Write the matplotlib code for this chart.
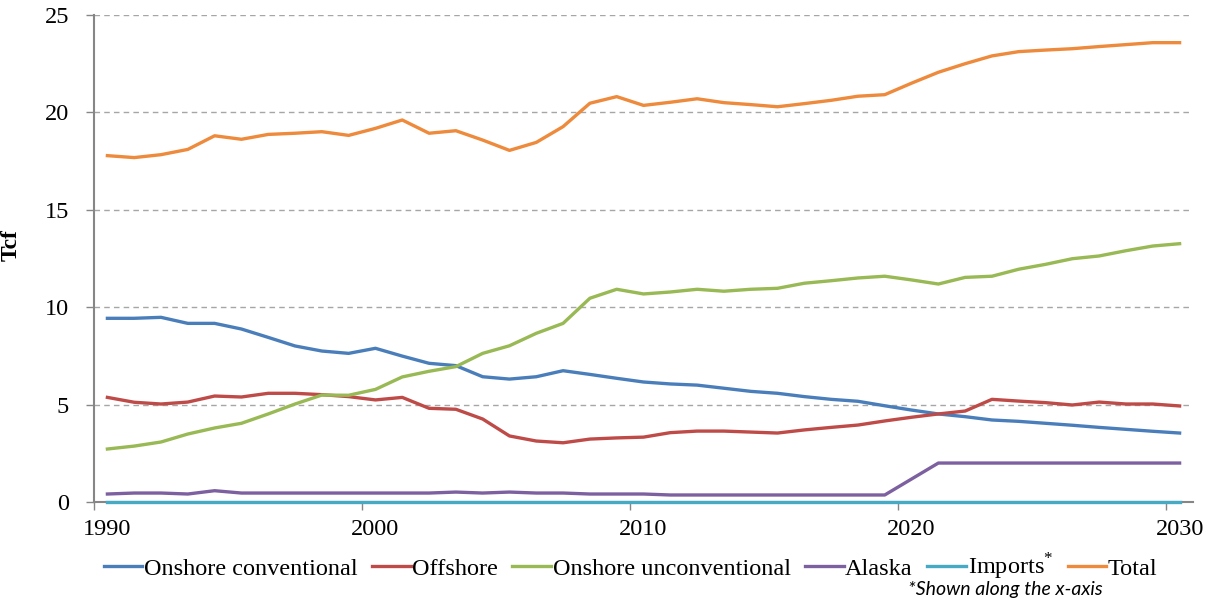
import matplotlib.pyplot as plt
import numpy as np

years = list(range(1990, 2031))

onshore_conv = [9.43, 9.43, 9.48, 9.17, 9.17, 8.88, 8.45, 8.01, 7.75, 7.63,
                7.89, 7.49, 7.12, 7.00, 6.43, 6.31, 6.43, 6.74, 6.55, 6.35,
                6.16, 6.06, 6.00, 5.84, 5.68, 5.58, 5.41, 5.27, 5.17, 4.94,
                4.72, 4.52, 4.38, 4.21, 4.14, 4.04, 3.94, 3.83, 3.73, 3.63,
                3.54]
offshore = [5.37, 5.12, 5.03, 5.13, 5.44, 5.39, 5.58, 5.58, 5.51, 5.41,
            5.24, 5.37, 4.81, 4.76, 4.26, 3.39, 3.13, 3.04, 3.23, 3.29,
            3.33, 3.56, 3.64, 3.64, 3.59, 3.54, 3.70, 3.83, 3.95, 4.16,
            4.35, 4.52, 4.67, 5.27, 5.18, 5.10, 4.98, 5.13, 5.03, 5.03,
            4.93]
onshore_unconv = [2.72, 2.87, 3.08, 3.49, 3.80, 4.04, 4.52, 5.03, 5.49, 5.48,
                  5.78, 6.42, 6.71, 6.95, 7.63, 8.02, 8.66, 9.17, 10.46, 10.92,
                  10.68, 10.78, 10.92, 10.82, 10.92, 10.97, 11.23, 11.36, 11.50, 11.59,
                  11.40, 11.19, 11.53, 11.59, 11.95, 12.20, 12.49, 12.63, 12.90, 13.14,
                  13.26]
alaska = [0.41, 0.46, 0.46, 0.41, 0.58, 0.46, 0.46, 0.46, 0.46, 0.46,
          0.46, 0.46, 0.46, 0.51, 0.46, 0.51, 0.46, 0.46, 0.41, 0.41,
          0.41, 0.36, 0.36, 0.36, 0.36, 0.36, 0.36, 0.36, 0.36, 0.36,
          1.18, 2.00, 2.00, 2.00, 2.00, 2.00, 2.00, 2.00, 2.00, 2.00,
          2.00]
imports = [0.0] * 41
total = [17.78, 17.68, 17.83, 18.10, 18.80, 18.62, 18.87, 18.93, 19.01, 18.82,
         19.18, 19.61, 18.93, 19.06, 18.58, 18.05, 18.46, 19.27, 20.47, 20.81,
         20.36, 20.52, 20.70, 20.50, 20.40, 20.29, 20.45, 20.62, 20.83, 20.91,
         21.50, 22.06, 22.50, 22.90, 23.12, 23.20, 23.27, 23.38, 23.48, 23.58,
         23.58]

series = [
    ("Onshore conventional", onshore_conv, "#4A7EBB"),
    ("Offshore", offshore, "#BE4B48"),
    ("Onshore unconventional", onshore_unconv, "#98B954"),
    ("Alaska", alaska, "#7D60A0"),
    ("Imports$^{*}$", imports, "#46AAC5"),
    ("Total", total, "#EE8A3C"),
]

plt.rcParams['font.family'] = ['Liberation Serif', 'DejaVu Serif']
plt.rcParams['mathtext.fontset'] = 'custom'
plt.rcParams['mathtext.rm'] = 'Liberation Serif'

fig = plt.figure(figsize=(12.17, 6.0), dpi=100)
ax = fig.add_axes([94 / 1217, 98 / 600, (1193 - 94) / 1217, (502 - 15) / 600])

for label, vals, col in series:
    ax.plot(years, vals, color=col, lw=2.4, label=label, clip_on=False,
            solid_joinstyle='round', zorder=3)

ax.set_xlim(1989.5, 2030.5)
ax.set_ylim(0, 25)

ax.set_yticks([0, 5, 10, 15, 20, 25])
ax.set_xticks([1990, 2000, 2010, 2020, 2030])
ax.set_xticks([1989.5, 1999.5, 2009.5, 2019.5, 2029.5], minor=True)
ax.tick_params(axis='x', which='major', length=0, pad=12, labelsize=17.5)
ax.tick_params(axis='x', which='minor', length=6, width=1, color='#868686',
               direction='out')
ax.tick_params(axis='y', length=6, width=1, color='#868686', pad=12,
               labelsize=17.5)

ax.yaxis.grid(True, linestyle=(0, (4, 3)), color='#A6A6A6', lw=1)
ax.set_axisbelow(True)
for s in ['top', 'right']:
    ax.spines[s].set_visible(False)
for s in ['left', 'bottom']:
    ax.spines[s].set_color('#868686')
    ax.spines[s].set_linewidth(1.5)

ax.set_ylabel("Tcf", fontsize=17, fontweight='bold')
ax.yaxis.set_label_coords(-0.066, 0.528)

fig.legend(loc='center', bbox_to_anchor=(0.518, 0.055), ncol=6, frameon=False,
           fontsize=17.5, handlelength=1.6, handletextpad=0.05,
           columnspacing=0.6, borderaxespad=0, borderpad=0)

fig.text(1005 / 1217, 1 - 589 / 600, "*Shown along the x-axis", ha='center',
         va='center', fontsize=14, style='italic', family=['Lato', 'DejaVu Sans'])

fig.savefig("out.png", dpi=100)
